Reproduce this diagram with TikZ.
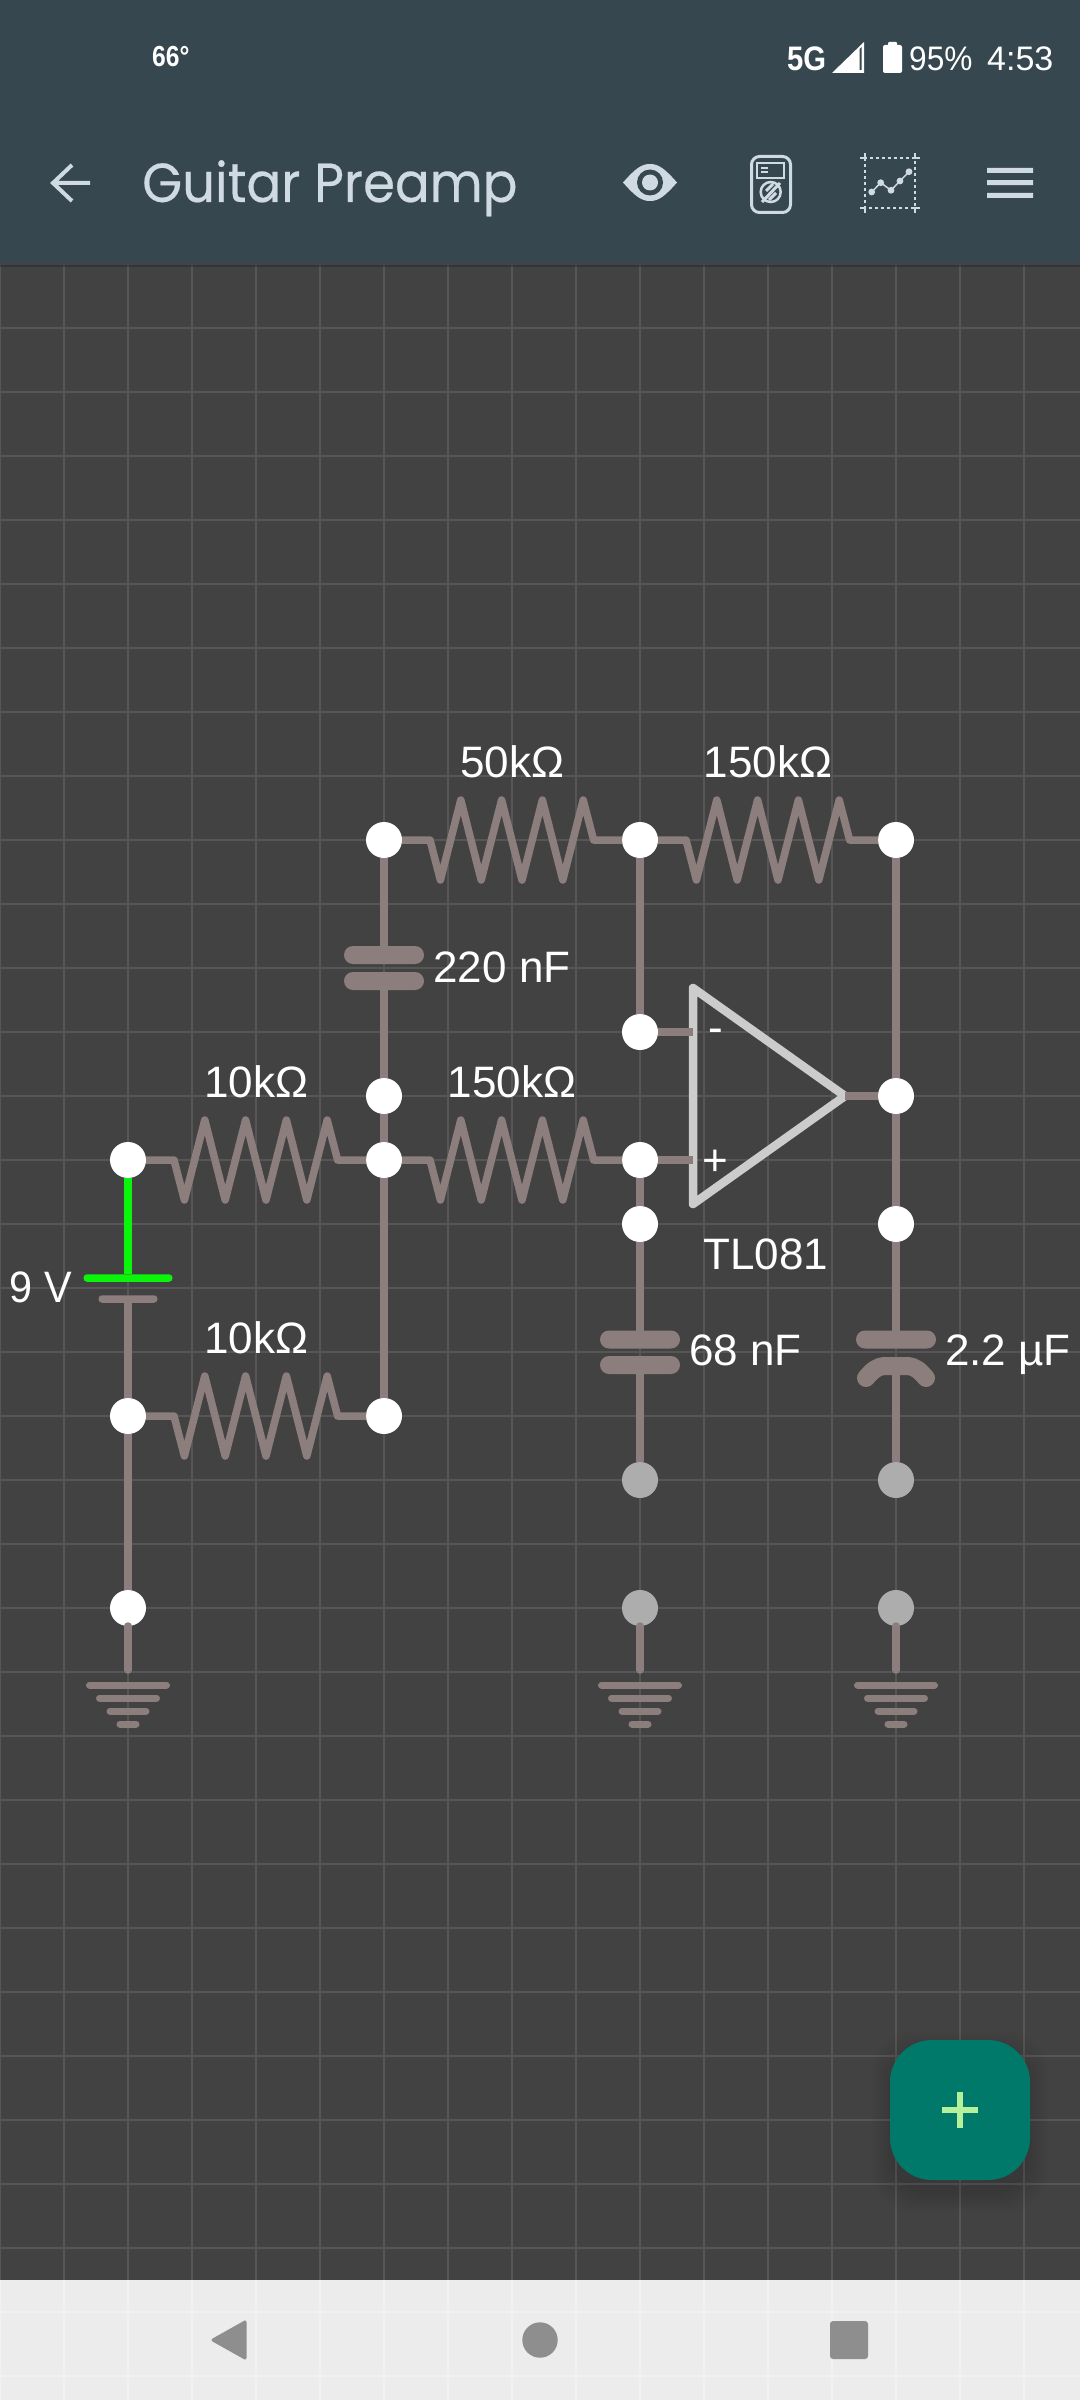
\documentclass[tikz,border=0pt]{standalone}
\usepackage{fontspec}
\setmainfont{Liberation Sans}
\newfontfamily\titlefont[FakeBold=0.3]{Poppins}
\usetikzlibrary{calc}

\definecolor{bgcol}{HTML}{424242}
\definecolor{gridcol}{HTML}{565656}
\definecolor{barcol}{HTML}{37474F}
\definecolor{iconcol}{HTML}{CFDAE2}
\definecolor{wirecol}{HTML}{8C7E7C}
\definecolor{ampcol}{HTML}{CCCCCC}
\definecolor{offcol}{HTML}{ADADAD}
\definecolor{battcol}{HTML}{0AF50A}
\definecolor{fabcol}{HTML}{00796B}
\definecolor{pluscol}{HTML}{B5F09B}
\definecolor{navcol}{HTML}{ECECEC}
\definecolor{navgrid}{HTML}{F1F1F1}
\definecolor{navkey}{HTML}{8E8E8E}

\tikzset{
	wire/.style={draw=wirecol,line width=7.5pt,line join=round},
	joint/.style={circle,fill=white,minimum size=36pt,inner sep=0pt,outer sep=0pt},
	jointoff/.style={joint,fill=offcol},
	plate/.style={rectangle,fill=wirecol,rounded corners=9pt,minimum width=80pt,minimum height=18pt,inner sep=0pt,outer sep=0pt},
	battpos/.style={plate,fill=battcol,rounded corners=3.5pt,minimum width=89pt,minimum height=7.5pt},
	battneg/.style={plate,rounded corners=3.5pt,minimum width=59pt,minimum height=7.5pt},
	val/.style={text=white,font=\fontsize{44}{50}\selectfont,inner sep=0pt,anchor=base},
	stat/.style={text=white,font=\fontsize{34}{38}\selectfont,inner sep=0pt,anchor=base west},
	icon/.style={draw=iconcol,line width=3pt},
	resistor/.style={to path={(\tikztostart) -- ($(\tikztostart.center)+(46,0)$)
		-- ++(10.4,40) -- ++(20.4,-80) -- ++(20.4,80) -- ++(20.4,-80)
		-- ++(20.4,80) -- ++(20.4,-80) -- ++(20.4,80) -- ++(20.4,-80)
		-- ++(10.4,40) -- (\tikztotarget)}},
	gnd/.pic={
		\draw[wirecol,line width=7pt,line cap=round]
			(-38.5,15) -- (38.5,15)
			(-28.5,28) -- (28.5,28)
			(-18,41) -- (18,41)
			(-8,54) -- (8,54);
	}
}

\begin{document}
\begin{tikzpicture}[x=1pt,y=-1pt,node distance=256pt]
	\useasboundingbox (0,0) rectangle (1080,2400);
	% canvas and grid
	\fill[bgcol] (0,0) rectangle (1080,2400);
	\foreach \gx in {0,64,...,1024} \draw[gridcol,line width=2pt] (\gx,264) -- (\gx,2280);
	\foreach \gy in {264,328,...,2248} \draw[gridcol,line width=2pt] (0,\gy) -- (1080,\gy);

	% top bars
	\fill[barcol] (0,0) rectangle (1080,263);
	\fill[black,opacity=.2] (0,263) rectangle (1080,267);
	\node[stat,font=\fontsize{29}{32}\selectfont\bfseries,xscale=.85,transform shape] (Temp) at (152,67) {66°};
	\node[stat,font=\fontsize{34}{38}\selectfont\bfseries,xscale=.86,transform shape] (Net) at (787,70.5) {5G};
	\node[stat,xscale=.93,transform shape] (Level) at (909,70.5) {95\%};
	\node[stat] (Clock) at (987,70.5) {4:53};
	\fill[white] (832,73) -- (864,42) -- (864,73) -- cycle;
	\fill[barcol] (859.5,49) -- (861.5,47) -- (861.5,70) -- (859.5,70) -- cycle;
	\fill[white,rounded corners=2pt] (883,45) rectangle (902,73);
	\fill[white,rounded corners=1pt] (888,42) rectangle (897,47);

	\draw[iconcol,line width=4pt] (90,183) -- (53,183) (72,165) -- (53,183) -- (72,201);
	\node[text=iconcol,font=\fontsize{55}{60}\titlefont,inner sep=0pt,anchor=base west,xscale=.935,transform shape] (Title) at (142,202) {Guitar Preamp};

	\fill[iconcol] (623,182.5) .. controls (635,169) and (641,164) .. (650,164) .. controls (659,164) and (665,169) .. (677,182.5)
		.. controls (665,196) and (659,201) .. (650,201) .. controls (641,201) and (635,196) .. (623,182.5) -- cycle;
	\fill[barcol] (650,182.5) circle (13);
	\fill[iconcol] (650,182.5) circle (8);

	\draw[icon,rounded corners=8pt] (751.5,156.5) rectangle (790.5,212.5);
	\draw[icon,line width=2.5pt] (757,163) rectangle (784,178);
	\draw[icon,line width=2pt] (761,167.7) -- (768,167.7) (761,172.3) -- (768,172.3);
	\draw[icon,line width=2.5pt] (770.7,192) circle (10);
	\draw[icon,line width=3pt] (762,202) -- (780,183) (766,191) -- (773,184) (769,200) -- (776,193);

	\draw[icon,line width=2.5pt,dash pattern=on 3pt off 3pt] (865,158) rectangle (915,208);
	\draw[icon,line width=2.5pt]
		(860,158) -- (865,158) -- (865,153) (920,158) -- (915,158) -- (915,153)
		(860,208) -- (865,208) -- (865,213) (920,208) -- (915,208) -- (915,213);
	\draw[icon,line width=1.5pt] (871.7,192) -- (880.7,182.7) -- (891,190.3) -- (900,181) -- (909,171.7);
	\foreach \px/\py in {871.7/192,880.7/182.7,891/190.3,900/181,909/171.7} \fill[iconcol] (\px,\py) circle (3.4);

	\fill[iconcol] (987,167.8) rectangle (1033,172.8) (987,180.2) rectangle (1033,185.2) (987,192.8) rectangle (1033,197.8);

	% terminals
	\node[joint] (FbA) at (384,840) {};
	\node[joint] (FbB) [right of=FbA] {};
	\node[joint] (FbC) [right of=FbB] {};
	\node[joint] (InvIn) at (640,1032) {};
	\node[joint] (CapEnd) at (384,1096) {};
	\node[joint] (OutPin) at (896,1096) {};
	\node[joint] (BattTop) at (128,1160) {};
	\node[joint] (MidPin) [right of=BattTop] {};
	\node[joint] (PosIn) [right of=MidPin] {};
	\node[joint] (LowA) at (640,1224) {};
	\node[joint] (LowB) at (896,1224) {};
	\node[joint] (BattLow) at (128,1416) {};
	\node[joint] (DivEnd) [right of=BattLow] {};
	\node[joint] (GndA) at (128,1608) {};
	\node[jointoff] (CapLowA) at (640,1480) {};
	\node[jointoff] (CapLowB) at (896,1480) {};
	\node[jointoff] (GndB) at (640,1608) {};
	\node[jointoff] (GndC) at (896,1608) {};

	% capacitor and battery plates
	\node[plate] (CapUpA) at (384,955) {};
	\node[plate] (CapDnA) at (384,981) {};
	\node[plate] (CapUpB) at (640,1339.5) {};
	\node[plate] (CapDnB) at (640,1365) {};
	\node[plate] (CapUpC) at (896,1339.5) {};
	\coordinate (CapDnC) at (896,1366);
	\node[battpos] (BattPlus) at (128,1278) {};
	\node[battneg] (BattMinus) at (128,1299) {};

	% op amp
	\coordinate (AmpInv) at (693,1032);
	\coordinate (AmpPos) at (693,1160);
	\coordinate (AmpOut) at (845,1096);
	\draw[ampcol,line width=8.5pt,line join=round] (693,988) -- (AmpOut) -- (693,1204) -- cycle;

	% ground stubs
	\coordinate (StubA) at (128,1670);
	\coordinate (StubB) at (640,1670);
	\coordinate (StubC) at (896,1670);
	\pic at (StubA) {gnd};
	\pic at (StubB) {gnd};
	\pic at (StubC) {gnd};

	% connections
	\path[wire]
		(FbA) edge[resistor] (FbB)
		(FbB) edge[resistor] (FbC)
		(MidPin) edge[resistor] (PosIn)
		(BattTop) edge[resistor] (MidPin)
		(BattLow) edge[resistor] (DivEnd)
		(FbA) edge (CapUpA)
		(CapDnA) edge (CapEnd)
		(CapEnd) edge (MidPin)
		(MidPin) edge (DivEnd)
		(FbB) edge (InvIn)
		(InvIn) edge (AmpInv)
		(PosIn) edge (AmpPos)
		(PosIn) edge (LowA)
		(LowA) edge (CapUpB)
		(CapDnB) edge (CapLowA)
		(FbC) edge (OutPin)
		(AmpOut) edge (OutPin)
		(OutPin) edge (LowB)
		(LowB) edge (CapUpC)
		(CapDnC) edge (CapLowB)
		(BattMinus) edge (BattLow)
		(BattLow) edge (GndA);
	\draw[draw=battcol,line width=7.5pt] (BattTop) -- (BattPlus);
	\draw[wirecol,line width=7.5pt,line cap=round] (GndA) -- (StubA) (GndB) -- (StubB) (GndC) -- (StubC);
	\draw[wirecol,line width=18pt,line cap=round,line join=round]
		(866,1378) .. controls (872,1371) and (876,1367) .. (884,1366) -- (908,1366) .. controls (916,1367) and (920,1371) .. (926,1378);

	% values
	\node[val] (ValFbA) at (512,777) {50kΩ};
	\node[val] (ValFbB) at (768,777) {150kΩ};
	\node[val] (ValIn) at (512,1097) {150kΩ};
	\node[val] (ValTop) at (256,1097) {10kΩ};
	\node[val] (ValLow) at (256,1353) {10kΩ};
	\node[val] (ValCapA) at (502,982) {220 nF};
	\node[val] (ValCapB) at (745.5,1365) {68 nF};
	\node[val] (ValCapC) at (1008,1365) {2.2 µF};
	\node[val,xscale=.94,transform shape] (ValBatt) at (41,1302) {9 V};
	\node[val] (ValAmp) at (766,1269.5) {TL081};
	\node[val] (SignInv) at (716,1042) {-};
	\node[val] (SignPos) at (715,1175) {+};

	% add button
	\foreach \gr in {2,4,...,20}
		\fill[black,opacity=.012,rounded corners=42pt] ({892-\gr},{2052-\gr}) rectangle ({1028+\gr},{2192+\gr});
	\node[rectangle,fill=fabcol,rounded corners=42pt,minimum size=140pt,inner sep=0pt] (AddKey) at (960,2110) {};
	\draw[pluscol,line width=5.5pt] (942,2110) -- (978,2110) (960,2092) -- (960,2128);

	% navigation bar
	\fill[navcol] (0,2280) rectangle (1080,2400);
	\foreach \gx in {0,64,...,1024} \draw[navgrid,line width=2pt] (\gx,2280) -- (\gx,2400);
	\foreach \gy in {2312,2376} \draw[navgrid,line width=2pt] (0,\gy) -- (1080,\gy);
	\fill[navkey,draw=navkey,line width=3pt,line join=round] (213,2340) -- (245,2322) -- (245,2358) -- cycle;
	\fill[navkey] (540,2340) circle (17.7);
	\fill[navkey,rounded corners=3pt] (830,2321) rectangle (868,2359);
\end{tikzpicture}
\end{document}
